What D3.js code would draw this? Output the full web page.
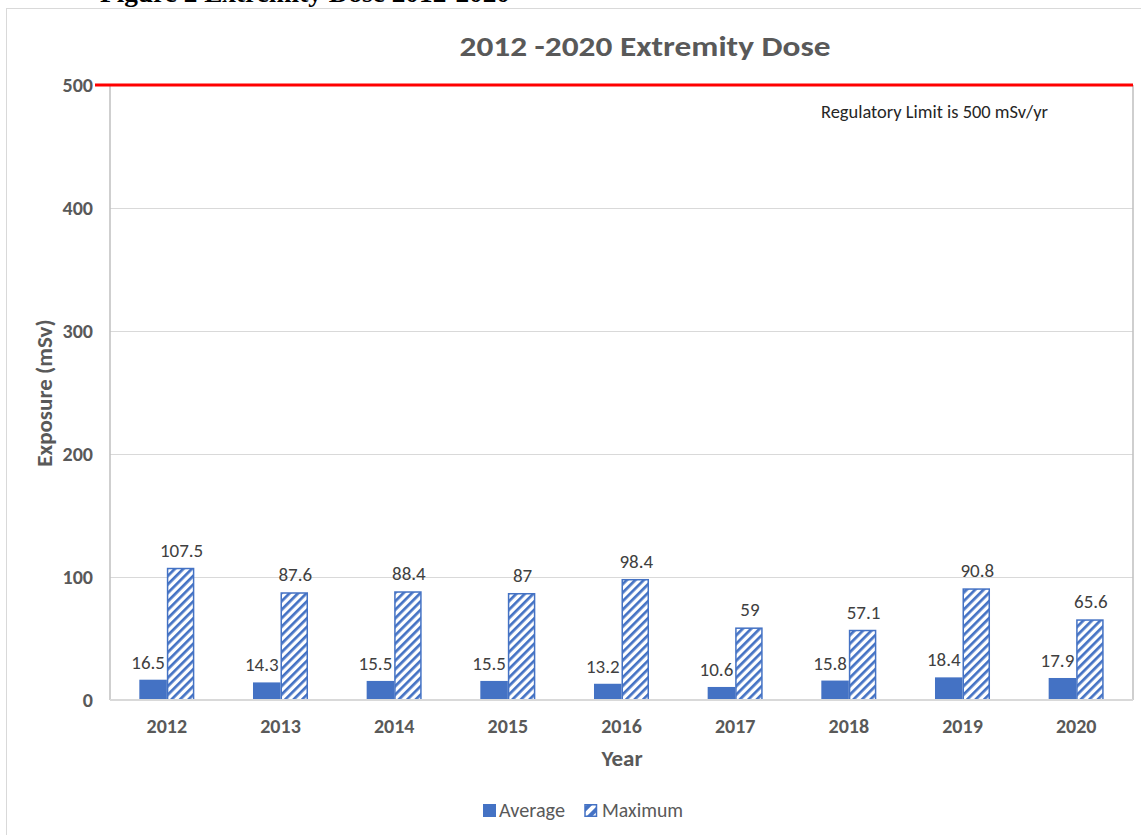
<!DOCTYPE html>
<html>
<head>
<meta charset="utf-8">
<script src="https://cdn.jsdelivr.net/npm/d3@7"></script>
<style>
html,body{margin:0;padding:0;background:#fff;}
svg{display:block;}
</style>
</head>
<body>
<svg id="chart" width="1141" height="835"></svg>
<script>
const years = ["2012","2013","2014","2015","2016","2017","2018","2019","2020"];
const averageDose = [16.5,14.3,15.5,15.5,13.2,10.6,15.8,18.4,17.9];
const maximumDose = [107.5,87.6,88.4,87,98.4,59,57.1,90.8,65.6];
const yTicks = [0,100,200,300,400,500];
const seriesNames = ["Average","Maximum"];
const regulatoryLimit = 500;

(function(){
const svg = d3.select("#chart");
const font = "Carlito, Calibri, Lato, 'Liberation Sans', Arial, sans-serif";
const blue = "#4472C4";
const grey = "#595959";

const pLeft = 110, pRight = 1133, pTop = 85, pBottom = 700;

// pattern
const defs = svg.append("defs");
const pat = defs.append("pattern").attr("id","hatch").attr("patternUnits","userSpaceOnUse")
  .attr("width",6).attr("height",6).attr("patternTransform","rotate(45)");
pat.append("rect").attr("width",6).attr("height",6).attr("fill","#fff");
pat.append("line").attr("x1",0).attr("y1",0).attr("x2",0).attr("y2",6)
  .attr("stroke",blue).attr("stroke-width",5.4);

const lpat = defs.append("pattern").attr("id","hatchL").attr("patternUnits","userSpaceOnUse")
  .attr("width",8).attr("height",8).attr("patternTransform","rotate(45)");
lpat.append("rect").attr("width",8).attr("height",8).attr("fill","#fff");
lpat.append("line").attr("x1",0).attr("y1",0).attr("x2",0).attr("y2",8)
  .attr("stroke",blue).attr("stroke-width",8);

// outer chart border
svg.append("rect").attr("x",6.5).attr("y",8.5).attr("width",1160).attr("height",840)
  .attr("fill","none").attr("stroke","#d9d9d9").attr("stroke-width",1);

// caption (cut off at top, as in the reference)
svg.append("text").attr("x",100).attr("y",1.5)
  .attr("font-family","'Liberation Serif','Times New Roman',serif").attr("font-weight","bold")
  .attr("font-size",26).attr("fill","#000")
  .attr("textLength",410).attr("lengthAdjust","spacingAndGlyphs")
  .text("Figure 2 Extremity Dose 2012-2020");

const x = d3.scaleBand().domain(years).range([pLeft,pRight]).paddingInner(0.516).paddingOuter(0.258);
const xs = d3.scaleBand().domain(seriesNames).range([0,x.bandwidth()]);
const y = d3.scaleLinear().domain([0,500]).range([pBottom,pTop]);

// gridlines
svg.append("g").selectAll("line").data(yTicks.filter(t=>t>0 && t<500)).join("line")
  .attr("x1",pLeft).attr("x2",pRight).attr("y1",d=>y(d)+0.5).attr("y2",d=>y(d)+0.5)
  .attr("stroke","#d9d9d9").attr("stroke-width",1);

// axis lines
svg.append("line").attr("x1",pLeft).attr("x2",pLeft).attr("y1",pTop).attr("y2",pBottom)
  .attr("stroke","#bfbfbf").attr("stroke-width",1.5);
svg.append("line").attr("x1",pRight).attr("x2",pRight).attr("y1",pTop).attr("y2",pBottom)
  .attr("stroke","#bfbfbf").attr("stroke-width",1.5);

// y axis
const yAxis = d3.axisLeft(y).tickValues(yTicks).tickSize(0).tickPadding(17);
const gy = svg.append("g").attr("transform",`translate(${pLeft},0)`).call(yAxis);
gy.select(".domain").remove();
gy.selectAll("text").attr("font-family",font).attr("font-weight","bold")
  .attr("font-size",20).attr("fill",grey);

// bars
const groups = svg.append("g").selectAll("g").data(years).join("g")
  .attr("transform",d=>`translate(${x(d)},0)`);

groups.append("rect")
  .attr("x",xs("Average")).attr("width",xs.bandwidth())
  .attr("y",(d,i)=>y(averageDose[i])).attr("height",(d,i)=>y(0)-y(averageDose[i]))
  .attr("fill",blue);

groups.append("rect")
  .attr("x",xs("Maximum")+0.75).attr("width",xs.bandwidth()-1.5)
  .attr("y",(d,i)=>y(maximumDose[i])+0.75).attr("height",(d,i)=>y(0)-y(maximumDose[i])-0.75)
  .attr("fill","url(#hatch)").attr("stroke",blue).attr("stroke-width",1.5);

// labels
groups.append("text")
  .attr("x",xs("Average")+xs.bandwidth()/2-5).attr("y",(d,i)=>y(averageDose[i])-11)
  .attr("text-anchor","middle").attr("font-family",font).attr("font-size",19).attr("fill","#404040")
  .text((d,i)=>averageDose[i]);
groups.append("text")
  .attr("x",xs("Maximum")+xs.bandwidth()/2+1).attr("y",(d,i)=>y(maximumDose[i])-11)
  .attr("text-anchor","middle").attr("font-family",font).attr("font-size",19).attr("fill","#404040")
  .text((d,i)=>maximumDose[i]);

// baseline x axis
const xAxis = d3.axisBottom(x).tickSize(0).tickPadding(19);
const gx = svg.append("g").attr("transform",`translate(0,${pBottom})`).call(xAxis);
gx.select(".domain").attr("stroke","#d9d9d9").attr("stroke-width",2).attr("d",`M${pLeft},0H${pRight}`);
gx.selectAll("text").attr("font-family",font).attr("font-weight","bold")
  .attr("font-size",20).attr("fill",grey);

// regulatory limit line
svg.append("line").attr("x1",95).attr("x2",pRight).attr("y1",y(regulatoryLimit)).attr("y2",y(regulatoryLimit))
  .attr("stroke","#ff0000").attr("stroke-width",3);

svg.append("text").attr("x",821).attr("y",118)
  .attr("font-family",font).attr("font-size",18).attr("fill","#262626")
  .attr("textLength",227).attr("lengthAdjust","spacingAndGlyphs")
  .text("Regulatory Limit is 500 mSv/yr");

// title
svg.append("text").attr("x",645).attr("y",56).attr("text-anchor","middle")
  .attr("font-family",font).attr("font-weight","bold").attr("font-size",28.5).attr("fill",grey)
  .attr("textLength",371).attr("lengthAdjust","spacingAndGlyphs")
  .text("2012 -2020 Extremity Dose");

// axis titles
svg.append("text").attr("transform",`translate(52,393) rotate(-90)`).attr("text-anchor","middle")
  .attr("font-family",font).attr("font-weight","bold").attr("font-size",23).attr("fill",grey)
  .text("Exposure (mSv)");
svg.append("text").attr("x",622).attr("y",766).attr("text-anchor","middle")
  .attr("font-family",font).attr("font-weight","bold").attr("font-size",23).attr("fill",grey)
  .text("Year");

// legend
const legend = svg.append("g");
legend.append("rect").attr("x",483).attr("y",804).attr("width",13).attr("height",13).attr("fill",blue);
legend.append("text").attr("x",499).attr("y",817).attr("font-family",font).attr("font-size",20).attr("fill",grey)
  .attr("textLength",66).attr("lengthAdjust","spacingAndGlyphs")
  .text(seriesNames[0]);
legend.append("rect").attr("x",585).attr("y",804.75).attr("width",11.5).attr("height",11.5)
  .attr("fill","url(#hatchL)").attr("stroke",blue).attr("stroke-width",1.5);
legend.append("text").attr("x",602).attr("y",817).attr("font-family",font).attr("font-size",20).attr("fill",grey)
  .attr("textLength",81).attr("lengthAdjust","spacingAndGlyphs")
  .text(seriesNames[1]);
})();
</script>
</body>
</html>
